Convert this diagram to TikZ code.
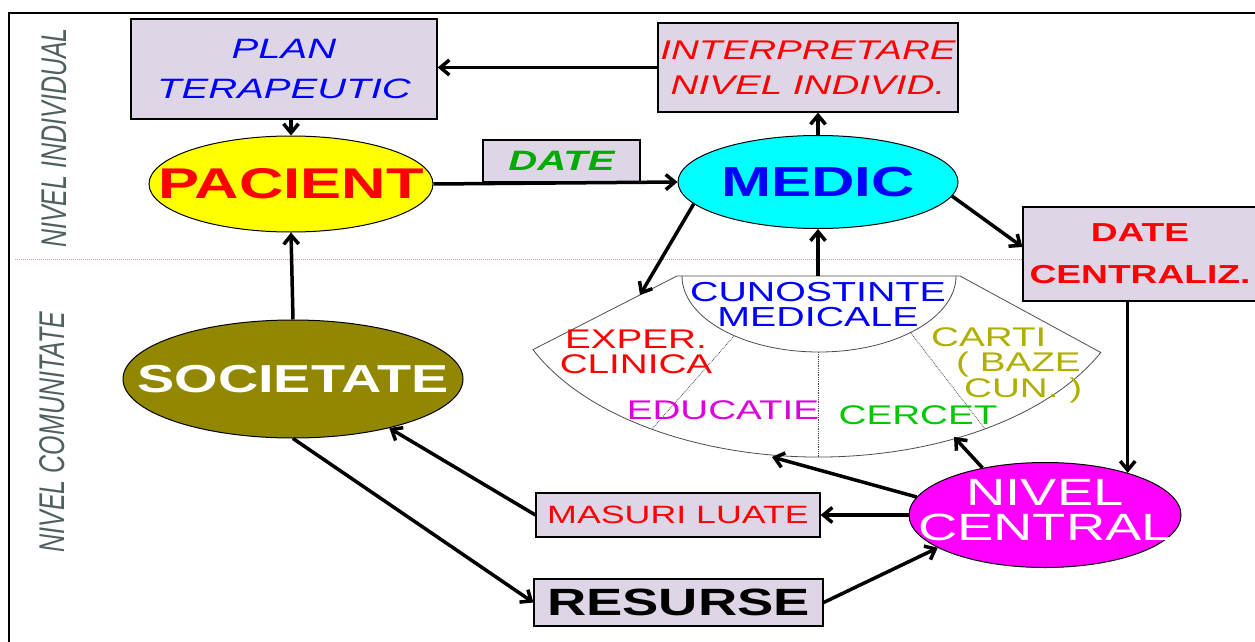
\documentclass[tikz,border=0pt]{standalone}
\usepackage{fontspec}
\setmainfont{Liberation Sans}[FakeStretch=1.43]
\newfontfamily\vertfont{Liberation Sans}
\usetikzlibrary{shapes.geometric,arrows.meta}
\definecolor{boxfill}{RGB}{222,214,230}
\definecolor{olivefill}{RGB}{145,135,0}
\definecolor{vertcol}{RGB}{80,95,95}
\definecolor{datecol}{RGB}{0,170,0}
\definecolor{cartcol}{RGB}{175,175,0}
\definecolor{cercol}{RGB}{0,200,0}
\definecolor{educol}{RGB}{220,0,220}
\definecolor{divcol}{RGB}{200,150,220}
\definecolor{pacfill}{RGB}{255,255,0}
\definecolor{medfill}{RGB}{0,255,255}
\definecolor{cenfill}{RGB}{255,0,255}
\definecolor{txtred}{RGB}{255,0,0}
\definecolor{txtblue}{RGB}{0,0,255}

\begin{document}
\begin{tikzpicture}[x=1pt,y=-1pt,>={Straight Barb[length=9pt,width=15pt]},
        box/.style={draw,line width=1.2pt,fill=boxfill,inner sep=0pt,align=center},
        elli/.style={draw,ellipse,line width=1pt,inner sep=0pt},
        arr/.style={->,line width=3.5pt},
        fanline/.style={line width=0.8pt,draw=black!70}]
        \useasboundingbox (0,0) rectangle (1255,642);
        \draw[line width=2pt](9,642)--(9,13)--(1255,13);

        % niveluri
        \node[rotate=90,text=vertcol,font=\vertfont\fontsize{25}{25}\selectfont\itshape](nivind)at(54,138){\scalebox{1}[1.43]{NIVEL INDIVIDUAL}};
        \node[rotate=90,text=vertcol,font=\vertfont\fontsize{25}{25}\selectfont\itshape](nivcom)at(52,432){\scalebox{1}[1.43]{NIVEL COMUNITATE}};
        \coordinate(divL)at(15,259);

        % casete
        \node[box,minimum width=306,minimum height=100,text=txtblue,font=\fontsize{28}{40}\selectfont\itshape](plan)at(284,69){PLAN\\TERAPEUTIC};
        \node[box,minimum width=300,minimum height=89,text=txtred,font=\fontsize{27}{35}\selectfont\itshape](interp)at(808,67.5){INTERPRETARE\\NIVEL INDIVID.};
        \node[box,minimum width=157,minimum height=42,text=datecol,font=\fontsize{28}{28}\selectfont\bfseries\itshape](date)at(561.5,161){DATE};
        \node[box,minimum width=234,minimum height=94,text=txtred,font=\fontsize{26}{42}\selectfont\bfseries](datec)at(1140,254){DATE\\CENTRALIZ.};
        \node[box,minimum width=284,minimum height=44,text=txtred,font=\fontsize{25}{25}\selectfont](masuri)at(678,515){MASURI LUATE};
        \node[box,minimum width=289,minimum height=47,text=black,font=\fontsize{38}{38}\selectfont\bfseries](resurse)at(678.5,602.5){RESURSE};
        \draw[densely dotted,divcol,line width=1pt](divL)--(divL -| datec.west);

        % elipse
        \node[elli,fill=pacfill,minimum width=284,minimum height=96,text=txtred,font=\fontsize{43}{43}\selectfont\bfseries](pacient)at(291,184){\makebox[0pt]{PACIENT}};
        \node[elli,fill=medfill,minimum width=280,minimum height=93,text=txtblue,font=\fontsize{42}{42}\selectfont\bfseries](medic)at(818,182){\makebox[0pt]{MEDIC}};
        \node[elli,fill=olivefill,minimum width=340,minimum height=118,text=white,font=\fontsize{39}{39}\selectfont\bfseries](societate)at(293,379){\makebox[0pt]{SOCIETATE}};
        \node[elli,fill=cenfill,minimum width=272,minimum height=105,text=white,font=\fontsize{38}{34}\selectfont](central)at(1045,515){\makebox[0pt]{\raisebox{5pt}{\begin{tabular}{@{}c@{}}NIVEL\\[-1pt]CENTRAL\end{tabular}}}};

        % evantai cunostinte
        \draw[fanline](818,276)++(156:312 and 181)arc[start angle=156,end angle=25,x radius=312,y radius=181]--(960,276)--(677,276)--cycle;
        \draw[fanline](682,276)arc[start angle=180,end angle=0,x radius=137,y radius=76];
        \draw[fanline,densely dotted](734,336)--(652,429);
        \draw[fanline,densely dotted](818,352)--(818,457);
        \draw[fanline,densely dotted](910,332)--(985,429);
        \coordinate(cuntop)at(818,276);
        \coordinate(fanin)at(640,295);
        \coordinate(fanbot)at(772,457);
        \coordinate(fanrt)at(954,437);
        \node[text=txtblue,font=\fontsize{27.5}{25}\selectfont,align=center](cuno)at(818,304.5){CUNOSTINTE\\MEDICALE};
        \node[text=txtred,font=\fontsize{27}{25}\selectfont,align=center](exper)at(636,352){EXPER.\\CLINICA};
        \node[text=cartcol,font=\fontsize{27}{25}\selectfont,align=left,anchor=north west,inner sep=0pt](carti)at(931,327){CARTI\\\hspace*{25pt}( BAZE\\\hspace*{33pt}CUN. )};
        \node[text=educol,font=\fontsize{27}{27}\selectfont](educ)at(723,410){EDUCATIE};
        \node[text=cercol,font=\fontsize{27}{27}\selectfont](cercet)at(918,415){CERCET};

        % sageti
        \draw[arr](interp.west)--(interp.west -| plan.east);
        \draw[arr](pacient.north |- plan.south)--(pacient.north);
        \draw[arr](pacient.east)--(medic.west);
        \draw[arr](medic.north)--(medic.north |- interp.south);
        \draw[arr](medic.-6)--([yshift=7pt]datec.west);
        \draw[arr](medic.190)--(fanin);
        \draw[arr](cuntop)--(medic.south);
        \draw[arr](datec.south -| central.27)--(central.27);
        \draw[arr](central.west)--(masuri.east);
        \draw[arr](central.172)--(fanbot);
        \draw[arr](central.143)--(fanrt);
        \draw[arr](resurse.east)--(central.-163);
        \draw[arr](societate.south)--(resurse.west);
        \draw[arr](masuri.west)--(societate.-27);
        \draw[arr](societate.north)--(pacient.south);
    \end{tikzpicture}
\end{document}
